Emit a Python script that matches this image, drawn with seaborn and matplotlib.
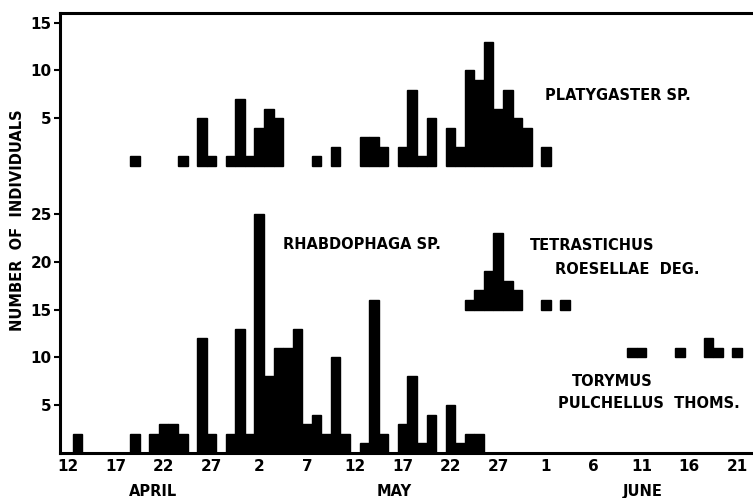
import matplotlib
matplotlib.use("Agg")
import matplotlib.pyplot as plt
import matplotlib.transforms as mtransforms
import seaborn as sns

# ---- data (day 0 = April 12) ----
rhab_days = [1, 7, 9, 10, 11, 12, 14, 15, 17, 18, 19, 20, 21, 22, 23, 24, 25, 26,
             27, 28, 29, 31, 32, 33, 35, 36, 37, 38, 40, 41, 42, 43]
rhab_vals = [2, 2, 2, 3, 3, 2, 12, 2, 2, 13, 2, 25, 8, 11, 11, 13, 3, 4,
             2, 10, 2, 1, 16, 2, 3, 8, 1, 4, 5, 1, 2, 2]

plat_days = [7, 12, 14, 15, 17, 18, 19, 20, 21, 22, 26, 28, 31, 32, 33, 35, 36,
             37, 38, 40, 41, 42, 43, 44, 45, 46, 47, 48, 50]
plat_vals = [1, 1, 5, 1, 1, 7, 1, 4, 6, 5, 1, 2, 3, 3, 2, 2, 8,
             1, 5, 4, 2, 10, 9, 13, 6, 8, 5, 4, 2]

tetr_days = [42, 43, 44, 45, 46, 47, 50, 52]
tetr_vals = [1, 2, 4, 8, 3, 2, 1, 1]

tory_days = [59, 60, 64, 67, 68, 70]
tory_vals = [1, 1, 1, 2, 1, 1]

# panel baselines on the shared vertical scale
plat_base = 30
tetr_base = 15
tory_base = 10

xtick_days = [0, 5, 10, 15, 20, 25, 30, 35, 40, 45, 50, 55, 60, 65, 70]
xtick_labels = ["12", "17", "22", "27", "2", "7", "12", "17", "22", "27",
                "1", "6", "11", "16", "21"]
ytick_vals = [5, 10, 15, 20, 25, 35, 40, 45]
ytick_labels = ["5", "10", "15", "20", "25", "5", "10", "15"]

months = ["APRIL", "MAY", "JUNE"]
month_days = [8.9, 34.1, 60.1]

sns.set_style("white")
plt.rcParams["font.family"] = ["DejaVu Sans"]
plt.rcParams["font.weight"] = "bold"
plt.rcParams["text.color"] = "black"
plt.rcParams["xtick.color"] = "black"
plt.rcParams["ytick.color"] = "black"
plt.rcParams["axes.labelcolor"] = "black"

fig = plt.figure(figsize=(7.53, 4.98), dpi=100)
ax = fig.add_axes([60 / 753, 45 / 498, 693 / 753, 440 / 498])

bar_kw = dict(native_scale=True, width=1.0, color="black", saturation=1,
              errorbar=None, edgecolor="black", linewidth=1.0, ax=ax)

sns.barplot(x=rhab_days, y=rhab_vals, **bar_kw)
sns.barplot(x=plat_days, y=plat_vals, bottom=plat_base, **bar_kw)
sns.barplot(x=tetr_days, y=tetr_vals, bottom=tetr_base, **bar_kw)
sns.barplot(x=tory_days, y=tory_vals, bottom=tory_base, **bar_kw)

ax.set_xlim(-0.84, 71.65)
ax.set_ylim(0, 46)

for side in ["left", "bottom", "top"]:
    ax.spines[side].set_visible(True)
    ax.spines[side].set_linewidth(2.2)
    ax.spines[side].set_color("black")
ax.spines["right"].set_visible(False)

ax.set_xticks(xtick_days)
ax.set_xticklabels(xtick_labels, fontsize=11, fontweight="bold", color="black")
ax.set_yticks(ytick_vals)
ax.set_yticklabels(ytick_labels, fontsize=11, fontweight="bold", color="black")
ax.tick_params(axis="x", length=0, pad=4, colors="black")
ax.tick_params(axis="y", length=4, width=1.5, pad=2, direction="out", left=True,
               colors="black")
ax.set_xlabel("")
ax.set_ylabel("")

txt_kw = dict(fontsize=10.5, fontweight="bold", ha="left", va="center", color="black")
ax.text(49.9, 37.4, "PLATYGASTER SP.", **txt_kw)
ax.text(22.5, 21.8, "RHABDOPHAGA SP.", **txt_kw)
ax.text(48.3, 21.7, "TETRASTICHUS", **txt_kw)
ax.text(50.9, 19.2, "ROESELLAE  DEG.", **txt_kw)
ax.text(52.7, 7.5, "TORYMUS", **txt_kw)
ax.text(51.3, 5.2, "PULCHELLUS  THOMS.", **txt_kw)

trans = mtransforms.blended_transform_factory(ax.transData, fig.transFigure)
for name, d in zip(months, month_days):
    ax.text(d, 7 / 498, name, transform=trans, fontsize=10.5, color="black",
            fontweight="bold", ha="center", va="center", clip_on=False)

fig.text(18 / 753, 278 / 498, "NUMBER  OF  INDIVIDUALS", rotation=90, color="black",
         fontsize=10.5, fontweight="bold", ha="center", va="center")

fig.savefig("out.png", dpi=100, facecolor="white")
